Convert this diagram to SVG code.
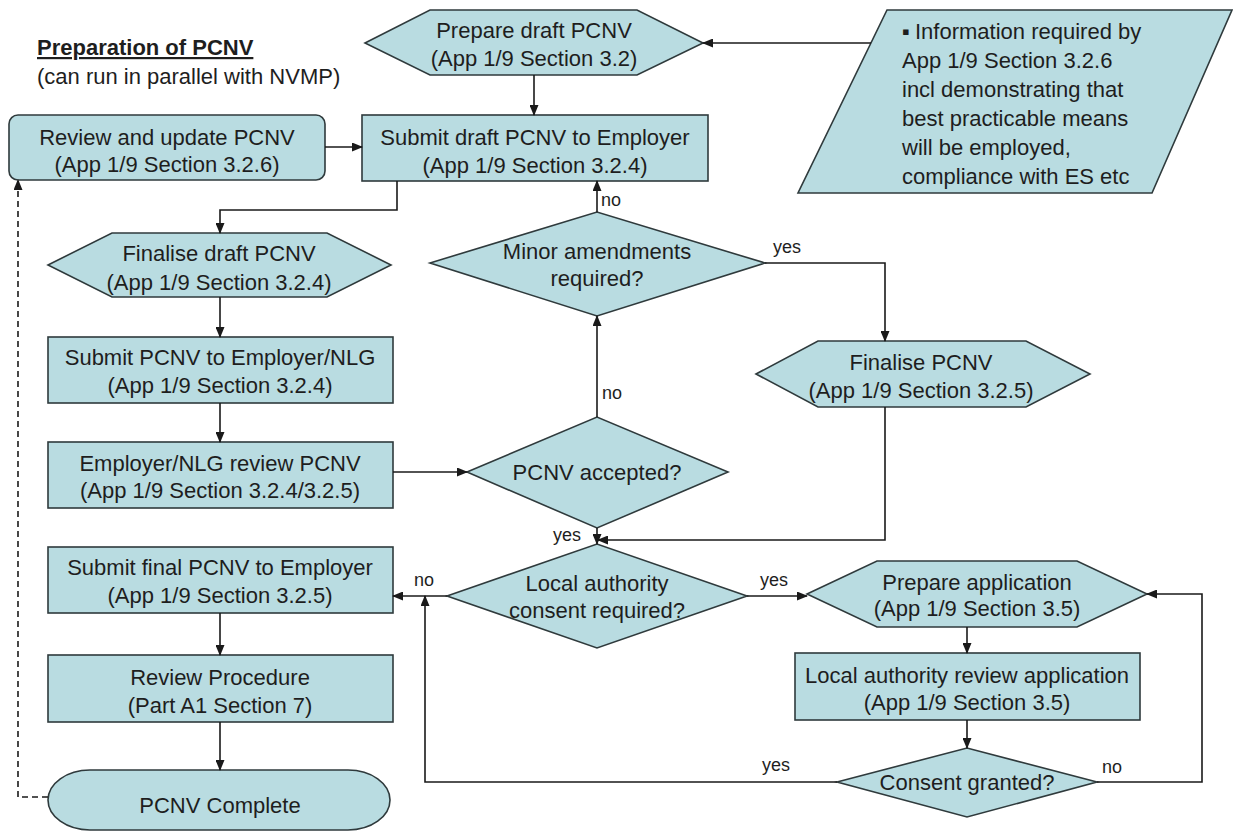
<svg xmlns="http://www.w3.org/2000/svg" width="1233" height="831" viewBox="0 0 1233 831">
<defs>
<marker id="ah" markerWidth="11" markerHeight="9" refX="10" refY="4.5" orient="auto" markerUnits="userSpaceOnUse">
<path d="M0,0 L11,4.5 L0,9 z" fill="#1a1a1a"/>
</marker>
<style>
.s{fill:#B9DCE1;stroke:#2f3a3c;stroke-width:1.6}
.t{font-family:"Liberation Sans",Arial,sans-serif;font-size:22px;fill:#1e1e1e;text-anchor:middle}
.tl{font-family:"Liberation Sans",Arial,sans-serif;font-size:22px;fill:#1e1e1e}
.lb{font-family:"Liberation Sans",Arial,sans-serif;font-size:18px;fill:#1e1e1e}
.c{fill:none;stroke:#1a1a1a;stroke-width:1.6;marker-end:url(#ah)}
.d{fill:none;stroke:#1a1a1a;stroke-width:1.6;stroke-dasharray:6,4;marker-end:url(#ah)}
</style>
</defs>
<rect width="1233" height="831" fill="#ffffff"/>

<g id="title">
<text class="tl" x="37" y="55" font-weight="bold" text-decoration="underline">Preparation of PCNV</text>
<text class="tl" x="37" y="84">(can run in parallel with NVMP)</text>
</g>

<g id="prepare_draft">
<polygon class="s" points="365,43 430,10 637,10 703,43 637,75 430,75"/>
<text class="t" x="534" y="38">Prepare draft PCNV</text>
<text class="t" x="534" y="66">(App 1/9 Section 3.2)</text>
</g>

<g id="info">
<polygon class="s" points="887,10 1232,10 1152,193 798,193"/>
<text class="tl" x="902" y="39">▪</text>
<text class="tl" x="915" y="39">Information required by</text>
<text class="tl" x="902" y="68">App 1/9 Section 3.2.6</text>
<text class="tl" x="902" y="97">incl demonstrating that</text>
<text class="tl" x="902" y="126">best practicable means</text>
<text class="tl" x="902" y="155">will be employed,</text>
<text class="tl" x="902" y="184">compliance with ES etc</text>
</g>

<g id="review_update">
<rect class="s" x="9" y="115" width="316" height="65" rx="9"/>
<text class="t" x="167" y="145">Review and update PCNV</text>
<text class="t" x="167" y="172">(App 1/9 Section 3.2.6)</text>
</g>

<g id="submit_draft">
<rect class="s" x="362" y="115" width="346" height="66"/>
<text class="t" x="535" y="145">Submit draft PCNV to Employer</text>
<text class="t" x="535" y="173">(App 1/9 Section 3.2.4)</text>
</g>

<g id="finalise_draft">
<polygon class="s" points="48,265 112,233 327,233 391,265 327,297 112,297"/>
<text class="t" x="219" y="261">Finalise draft PCNV</text>
<text class="t" x="219" y="290">(App 1/9 Section 3.2.4)</text>
</g>

<g id="submit_nlg">
<rect class="s" x="48" y="337" width="345" height="66"/>
<text class="t" x="220" y="365">Submit PCNV to Employer/NLG</text>
<text class="t" x="220" y="393">(App 1/9 Section 3.2.4)</text>
</g>

<g id="employer_review">
<rect class="s" x="48" y="442" width="345" height="66"/>
<text class="t" x="220" y="471">Employer/NLG review PCNV</text>
<text class="t" x="220" y="498">(App 1/9 Section 3.2.4/3.2.5)</text>
</g>

<g id="minor_amend">
<polygon class="s" points="430,263 597,212 765,263 597,316"/>
<text class="t" x="597" y="259">Minor amendments</text>
<text class="t" x="597" y="286">required?</text>
</g>

<g id="pcnv_accepted">
<polygon class="s" points="467,472 597,417 728,472 597,528"/>
<text class="t" x="597" y="480">PCNV accepted?</text>
</g>

<g id="finalise_pcnv">
<polygon class="s" points="756,374 818,341 1026,341 1090,374 1026,407 818,407"/>
<text class="t" x="921" y="370">Finalise PCNV</text>
<text class="t" x="921" y="398">(App 1/9 Section 3.2.5)</text>
</g>

<g id="local_consent">
<polygon class="s" points="447,596 597,544 747,596 597,648"/>
<text class="t" x="597" y="591">Local authority</text>
<text class="t" x="597" y="618">consent required?</text>
</g>

<g id="prepare_app">
<polygon class="s" points="807,594 877,561 1077,561 1147,594 1077,627 877,627"/>
<text class="t" x="977" y="590">Prepare application</text>
<text class="t" x="977" y="616">(App 1/9 Section 3.5)</text>
</g>

<g id="la_review">
<rect class="s" x="795" y="653" width="345" height="67"/>
<text class="t" x="967" y="683">Local authority review application</text>
<text class="t" x="967" y="710">(App 1/9 Section 3.5)</text>
</g>

<g id="consent_granted">
<polygon class="s" points="837,782 967,748 1097,782 967,817"/>
<text class="t" x="967" y="790">Consent granted?</text>
</g>

<g id="submit_final">
<rect class="s" x="48" y="547" width="345" height="66"/>
<text class="t" x="220" y="575">Submit final PCNV to Employer</text>
<text class="t" x="220" y="603">(App 1/9 Section 3.2.5)</text>
</g>

<g id="review_proc">
<rect class="s" x="48" y="655" width="345" height="67"/>
<text class="t" x="220" y="685">Review Procedure</text>
<text class="t" x="220" y="713">(Part A1 Section 7)</text>
</g>

<g id="pcnv_complete">
<path class="s" d="M90,770 H348 A42,30 0 0 1 348,830 H90 A42,30 0 0 1 90,770 Z"/>
<text class="t" x="220" y="813">PCNV Complete</text>
</g>

<g id="connectors">
<path class="c" d="M871,43 H703"/>
<path class="c" d="M534,75 V115"/>
<path class="c" d="M325,147 H362"/>
<path class="c" d="M397,181 V210 H220 V233"/>
<path class="c" d="M220,297 V337"/>
<path class="c" d="M220,403 V442"/>
<path class="c" d="M393,472 H467"/>
<path class="c" d="M597,417 V316"/>
<path class="c" d="M597,212 V181"/>
<path class="c" d="M765,263 H885 V341"/>
<path class="c" d="M597,528 V544"/>
<path class="c" d="M885,407 V540 H598"/>
<path class="c" d="M447,596 H393"/>
<path class="c" d="M747,596 H807"/>
<path class="c" d="M967,627 V653"/>
<path class="c" d="M967,720 V748"/>
<path class="c" d="M837,782 H425 V596"/>
<path class="c" d="M1097,782 H1202 V594 H1147"/>
<path class="c" d="M220,613 V655"/>
<path class="c" d="M220,722 V770"/>
<path class="d" d="M48,797 H18 V180"/>
<text class="lb" x="601" y="206">no</text>
<text class="lb" x="602" y="399">no</text>
<text class="lb" x="773" y="253">yes</text>
<text class="lb" x="553" y="541">yes</text>
<text class="lb" x="414" y="586">no</text>
<text class="lb" x="760" y="586">yes</text>
<text class="lb" x="762" y="771">yes</text>
<text class="lb" x="1102" y="773">no</text>
</g>
</svg>
